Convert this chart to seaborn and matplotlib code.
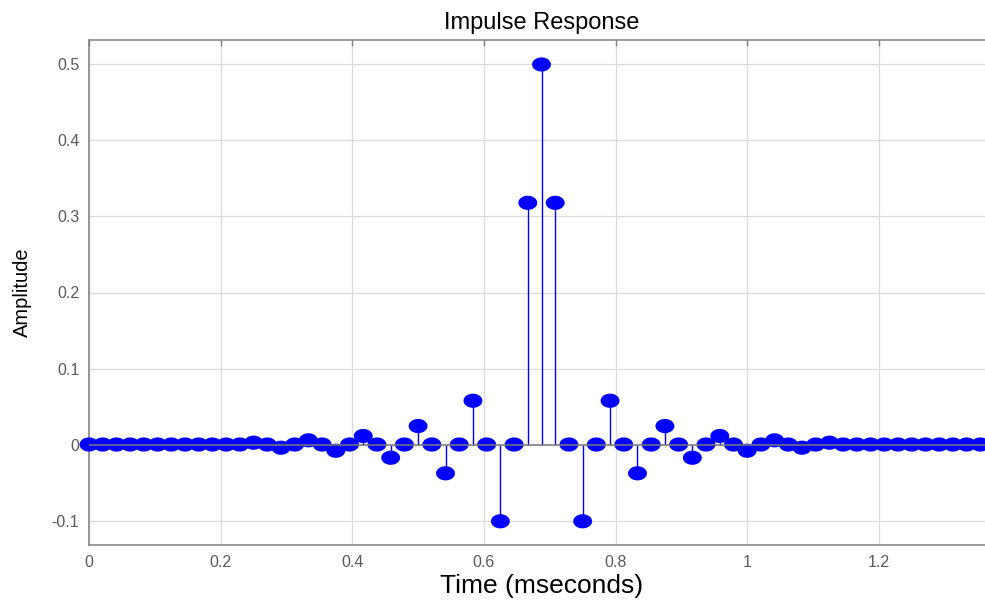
import numpy as np
import pandas as pd
import matplotlib
matplotlib.use("Agg")
import matplotlib.pyplot as plt
from matplotlib.path import Path
import seaborn as sns

# ---- data ----
sample_rate_khz = 48.0
taps = [0.0, 0.0, 0.0, 0.0, 0.0, 0.0, 0.0, 0.0, 0.0, 0.0, 0.0, 0.0,
        0.0024, 0.0, -0.0042, 0.0, 0.0055, 0.0, -0.0082, 0.0, 0.0112, 0.0,
        -0.0174, 0.0, 0.0243, 0.0, -0.0379, 0.0, 0.0576, 0.0, -0.101, 0.0,
        0.318, 0.5, 0.318,
        0.0, -0.101, 0.0, 0.0576, 0.0, -0.0379, 0.0, 0.0243, 0.0, -0.0174,
        0.0, 0.0112, 0.0, -0.0082, 0.0, 0.0055, 0.0, -0.0042, 0.0, 0.0024,
        0.0, 0.0, 0.0, 0.0, 0.0, 0.0, 0.0, 0.0, 0.0, 0.0, 0.0, 0.0]
sample_index = np.arange(len(taps))
xticks = [0, 0.2, 0.4, 0.6, 0.8, 1.0, 1.2]
xtick_labels = ["0", "0.2", "0.4", "0.6", "0.8", "1", "1.2"]
yticks = [-0.1, 0, 0.1, 0.2, 0.3, 0.4, 0.5]
ytick_labels = ["-0.1", "0", "0.1", "0.2", "0.3", "0.4", "0.5"]

df = pd.DataFrame({"time": sample_index / sample_rate_khz, "amp": taps})

sns.set_theme(style="white")
plt.rcParams["font.family"] = ["Liberation Sans", "DejaVu Sans"]

fig = plt.figure(figsize=(9.85, 6.02), dpi=100)
fig.patch.set_facecolor("white")
ax = fig.add_axes([89 / 985, 57 / 602, 905 / 985, 505 / 602])
ax.set_facecolor("white")

# ellipse marker (image is horizontally stretched)
th = np.linspace(0, 2 * np.pi, 60)
ell = Path(np.column_stack([np.cos(th), 0.75 * np.sin(th)]), closed=True)

ax.vlines(df["time"], 0, df["amp"], color="blue", lw=1.0, zorder=2)
sns.scatterplot(data=df, x="time", y="amp", marker=ell, s=185, color="blue",
                edgecolor="none", linewidth=0, zorder=3, ax=ax, legend=False,
                clip_on=False)
ax.axhline(0, color="#7a7a7a", lw=1.1, zorder=4)

ax.set_xlim(0, 1.375)
ax.set_ylim(-0.1322, 0.5322)
ax.set_xticks(xticks)
ax.set_xticklabels(xtick_labels)
ax.set_yticks(yticks)
ax.set_yticklabels(ytick_labels)
ax.grid(True, color="#dadada", lw=0.9)
ax.set_axisbelow(True)
for s in ax.spines.values():
    s.set_color("#7f7f7f")
    s.set_linewidth(1.1)
ax.tick_params(direction="in", length=4, width=1, color="#7f7f7f",
               top=True, right=True, labelcolor="#5a5a5a", labelsize=11.5,
               pad=7)

ax.set_title("Impulse Response", fontsize=17, color="black", pad=8)
ax.set_xlabel("Time (mseconds)", fontsize=19, color="black", labelpad=3)
ax.set_ylabel("Amplitude", fontsize=14.5, color="black", labelpad=14)

fig.savefig("out.png", dpi=100)
